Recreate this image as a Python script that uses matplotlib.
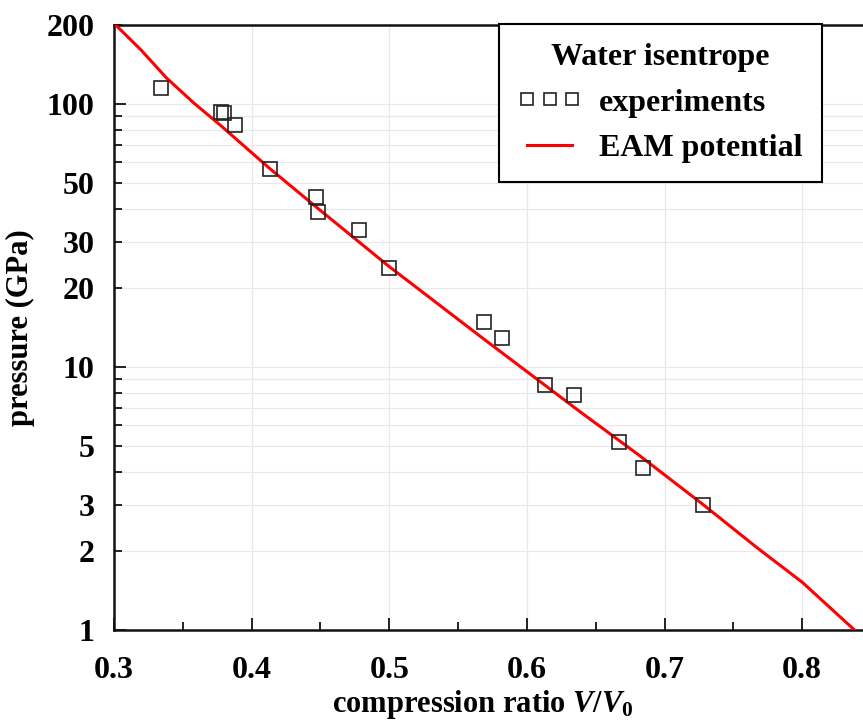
import numpy as np
import matplotlib
matplotlib.use("Agg")
import matplotlib.pyplot as plt
from matplotlib.ticker import LogLocator, FuncFormatter, MultipleLocator

plt.rcParams['font.family'] = ['Liberation Serif', 'DejaVu Serif']
plt.rcParams['font.weight'] = 'bold'
plt.rcParams['axes.labelweight'] = 'bold'
plt.rcParams['mathtext.fontset'] = 'custom'
plt.rcParams['mathtext.rm'] = 'Liberation Serif:bold'
plt.rcParams['mathtext.it'] = 'Liberation Serif:bold:italic'
plt.rcParams['mathtext.bf'] = 'Liberation Serif:bold'

# experiments (compression ratio, pressure in GPa)
exp_ratio = [0.334, 0.378, 0.380, 0.388, 0.413, 0.447, 0.448, 0.478, 0.500,
             0.569, 0.582, 0.613, 0.634, 0.667, 0.684, 0.728]
exp_pressure = [115, 93.2, 92.4, 83.2, 56.5, 44.5, 39.0, 33.3, 23.9,
                14.8, 12.9, 8.54, 7.82, 5.17, 4.12, 3.0]

# EAM potential isentrope
eam_ratio = [0.300, 0.320, 0.338, 0.358, 0.377, 0.413, 0.450, 0.500, 0.566,
             0.638, 0.682, 0.728, 0.767, 0.800, 0.838]
eam_pressure = [203, 160, 126, 101, 83.4, 57, 39.4, 24.1, 13.1,
                6.8, 4.6, 3.0, 2.06, 1.52, 1.0]

fig = plt.figure(figsize=(8.63, 7.2), dpi=100)
ax = fig.add_axes([114 / 863, 1 - 630 / 720, 757 / 863, 605 / 720])

ax.plot(eam_ratio, eam_pressure, color='red', lw=2.2, zorder=3,
        label='EAM potential')
ax.plot(exp_ratio, exp_pressure, ls='none', marker='s', ms=10.3,
        mfc='none', mec='#222222', mew=1.2, zorder=4, label='experiments')

ax.set_yscale('log')
ax.set_xlim(0.3, 0.85)
ax.set_ylim(1, 200)

ax.xaxis.set_major_locator(MultipleLocator(0.1))
ax.xaxis.set_minor_locator(MultipleLocator(0.05))
ax.xaxis.set_major_formatter(FuncFormatter(lambda v, p: f'{v:.1f}'))

ax.yaxis.set_major_locator(LogLocator(base=10, subs=(1.0,)))
ax.yaxis.set_minor_locator(LogLocator(base=10, subs=np.arange(2, 10)))


def ylab(v, p):
    m = v / 10 ** np.floor(np.log10(v) + 1e-9)
    if round(m) in (1, 2, 3, 5):
        return f'{v:g}'
    return ''


ax.yaxis.set_major_formatter(FuncFormatter(ylab))
ax.yaxis.set_minor_formatter(FuncFormatter(ylab))

ax.tick_params(axis='both', which='both', direction='in', labelsize=23,
               width=1.4, color='#222222')
ax.tick_params(axis='both', which='major', length=8.6)
ax.tick_params(axis='both', which='minor', length=5.8)
ax.tick_params(axis='y', which='both', pad=14)
ax.tick_params(axis='x', which='both', pad=19)

ax.grid(True, which='major', axis='x', color='#e8e8e8', lw=0.9)
ax.grid(True, which='both', axis='y', color='#e8e8e8', lw=0.9)
ax.set_axisbelow(True)

for s in ['left', 'bottom', 'top']:
    ax.spines[s].set_linewidth(1.8)
    ax.spines[s].set_color('#111111')
ax.spines['right'].set_visible(False)

ax.set_xlabel(r'compression ratio $V/V_0$', fontsize=22)
ax.xaxis.set_label_coords(0.487, -0.096)
ax.set_ylabel('pressure (GPa)', fontsize=22, labelpad=8)

h, l = ax.get_legend_handles_labels()
leg = ax.legend([h[1], h[0]], [l[1], l[0]], title='Water isentrope',
                loc='upper right', bbox_to_anchor=(822 / 863, 1 - 24 / 720),
                bbox_transform=fig.transFigure, numpoints=3, markerscale=0.85,
                fontsize=23, title_fontsize=23, fancybox=False,
                framealpha=1, edgecolor='black', handlelength=2.0,
                handletextpad=0.55, borderpad=0.6, labelspacing=0.5,
                borderaxespad=0)
leg.get_title().set_fontweight('bold')
leg.get_frame().set_linewidth(1.5)

fig.savefig('out.png', dpi=100)
